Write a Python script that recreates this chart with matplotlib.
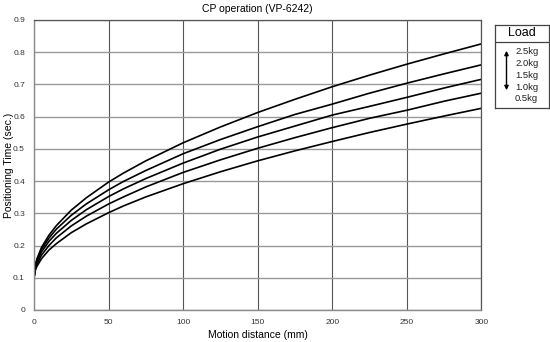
import matplotlib
matplotlib.use("Agg")
import matplotlib.pyplot as plt
from matplotlib.patches import FancyArrowPatch

plt.rcParams['font.family'] = ['Liberation Sans', 'DejaVu Sans']

# Motion distance (mm) at which positioning time was read
distance = [0, 1, 2, 5, 10, 15, 25, 35, 50, 60, 75, 100, 125, 150, 175, 200, 225, 250, 275, 300]

# Positioning time (sec.) per load
time_2_5kg = [0.100, 0.142, 0.159, 0.194, 0.232, 0.262, 0.310, 0.348, 0.397, 0.425, 0.463, 0.519, 0.568, 0.613, 0.654, 0.693, 0.729, 0.763, 0.795, 0.826]
time_2_0kg = [0.100, 0.140, 0.156, 0.188, 0.223, 0.251, 0.294, 0.329, 0.373, 0.399, 0.433, 0.485, 0.529, 0.569, 0.607, 0.639, 0.673, 0.704, 0.733, 0.761]
time_1_5kg = [0.100, 0.136, 0.151, 0.180, 0.213, 0.238, 0.278, 0.311, 0.352, 0.376, 0.408, 0.456, 0.499, 0.537, 0.571, 0.605, 0.632, 0.660, 0.689, 0.716]
time_1_0kg = [0.100, 0.131, 0.144, 0.170, 0.200, 0.224, 0.261, 0.291, 0.329, 0.351, 0.382, 0.427, 0.466, 0.502, 0.535, 0.566, 0.595, 0.620, 0.648, 0.673]
time_0_5kg = [0.100, 0.125, 0.136, 0.159, 0.186, 0.206, 0.240, 0.267, 0.302, 0.323, 0.351, 0.392, 0.429, 0.463, 0.494, 0.523, 0.551, 0.577, 0.602, 0.626]

series = [time_2_5kg, time_2_0kg, time_1_5kg, time_1_0kg, time_0_5kg]
load_labels = ["2.5kg", "2.0kg", "1.5kg", "1.0kg", "0.5kg"]

x_ticks = [0, 50, 100, 150, 200, 250, 300]
y_ticks = [0, 0.1, 0.2, 0.3, 0.4, 0.5, 0.6, 0.7, 0.8, 0.9]
y_tick_labels = ["0", "0.1", "0.2", "0.3", "0.4", "0.5", "0.6", "0.7", "0.8", "0.9"]

W, H = 550, 342
fig = plt.figure(figsize=(W / 100, H / 100), dpi=100)
ax_left, ax_right = 34, 481.5
ax = fig.add_axes([ax_left / W, 1 - 310 / H, (ax_right - ax_left) / W, (310 - 20) / H])

ax.set_xlim(0, 300)
ax.set_ylim(0, 0.9)
ax.set_xticks(x_ticks)
ax.set_yticks(y_ticks)
ax.set_yticklabels(y_tick_labels)
ax.tick_params(length=0, labelsize=6, colors="#333333", pad=6.5)
ax.yaxis.grid(True, color="#999999", linewidth=1.0)
ax.xaxis.grid(True, color="#555555", linewidth=0.8)
ax.set_axisbelow(True)
for side in ("left", "bottom"):
    ax.spines[side].set_color("#8a8a8a")
    ax.spines[side].set_linewidth(1.0)
for side in ("top", "right"):
    ax.spines[side].set_color("#555555")
    ax.spines[side].set_linewidth(0.9)

for values in series:
    ax.plot(distance, values, color="black", linewidth=1.2, solid_capstyle="butt")

ax.set_title("CP operation (VP-6242)", fontsize=7.5, pad=6)
ax.set_xlabel("Motion distance (mm)", fontsize=7.5, labelpad=3)
ax.set_ylabel("Positioning Time (sec.)", fontsize=7.5, va="center")
ax.yaxis.set_label_coords((8.5 - ax_left) / (ax_right - ax_left), 0.5)

# Load key box on the right
lg = fig.add_axes([495 / W, 1 - 108 / H, 54 / W, (108 - 25) / H])
lg.set_xlim(0, 54)
lg.set_ylim(108, 25)
lg.set_xticks([])
lg.set_yticks([])
for s in lg.spines.values():
    s.set_color("#444444")
    s.set_linewidth(0.9)
lg.axhline(42, color="#444444", linewidth=0.9)
lg.text(27, 33.5, "Load", ha="center", va="center", fontsize=9)
for i, lab in enumerate(load_labels):
    lg.text(20, 52 + i * 11.7, lab, ha="left", va="center", fontsize=6.8, color="#222222")
lg.add_patch(FancyArrowPatch((11.5, 48), (11.5, 93), arrowstyle="<|-|>",
                             mutation_scale=6, color="black", linewidth=1.0))

fig.savefig("out.png", dpi=100)
